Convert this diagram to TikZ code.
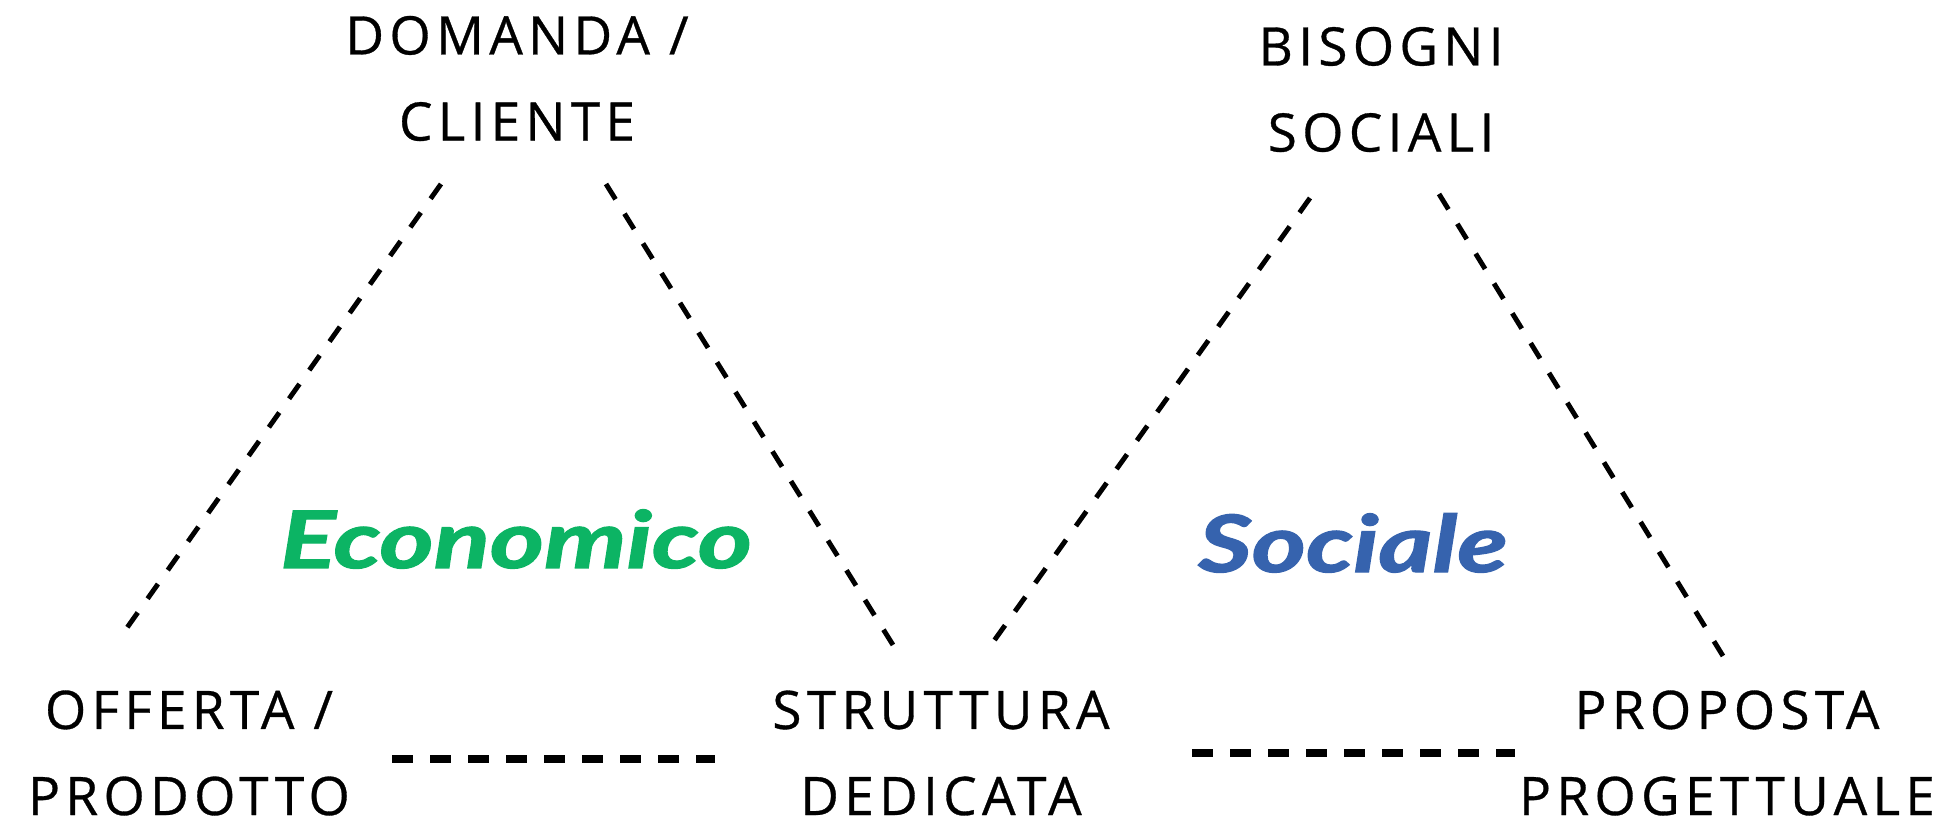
\documentclass[tikz,border=0pt]{standalone}
\usepackage{fontspec}
\usetikzlibrary{positioning}
\newfontfamily\capsfont[LetterSpace=10,FakeBold=0.6]{Open Sans}
\newfontfamily\areafont[FakeBold=1.5]{Lato}
\definecolor{ecogreen}{RGB}{12,180,100}
\definecolor{socblue}{RGB}{54,99,174}
\newcommand{\areatext}[1]{\scalebox{1.18}[0.9]{#1}}

\begin{document}
\begin{tikzpicture}[x=1mm,y=-1mm]
    \tikzset{
        lbl/.style={font=\capsfont\fontsize{15.1pt}{24.5pt}\selectfont, align=center, inner sep=0pt},
        area/.style={font=\areafont\bfseries\itshape\fontsize{25pt}{30pt}\selectfont, inner sep=0pt, anchor=base},
        diagdash/.style={line width=1.4pt, dash pattern=on 1.8mm off 1.7mm},
        basedash/.style={line width=2.3pt, dash pattern=on 2.1mm off 1.7mm}}
    \useasboundingbox (0,0) rectangle (195.1,82.6);
    % labels
    \node[lbl] (domanda) at (51.7,7.85) {DOMANDA /\\CLIENTE};
    \node[lbl] (bisogni) at (138.1,8.95) {BISOGNI\\SOCIALI};
    \node[lbl] (offerta) at (18.9,75.3) {OFFERTA /\\PRODOTTO};
    \node[lbl] (struttura) at (94.1,75.3) {STRUTTURA\\DEDICATA};
    \node[lbl] (proposta) at (172.7,75.3) {PROPOSTA\\PROGETTUALE};
    \node[area, text=ecogreen] (economico) at (51.6,56.8) {\areatext{Economico}};
    \node[area, text=socblue] (sociale) at (135.3,57.2) {\areatext{Sociale}};
    % ends of the dashed sides
    \coordinate (dom-l) at (44.1,18.4);
    \coordinate (dom-r) at (60.6,18.4);
    \coordinate (bis-l) at (131.0,19.8);
    \coordinate (bis-r) at (143.9,19.4);
    \coordinate (off-t) at (12.4,63.2);
    \coordinate (str-l) at (89.3,64.5);
    \coordinate (str-r) at (99.1,64.5);
    \coordinate (pro-t) at (172.3,65.6);
    \draw[diagdash] (dom-l) -- (off-t);
    \draw[diagdash] (dom-r) -- (str-l);
    \draw[diagdash] (bis-l) -- (str-r);
    \draw[diagdash] (bis-r) -- (pro-t);
    % base lines
    \coordinate (off-e) at (39.2,75.9);
    \coordinate (str-w) at (71.5,75.9);
    \coordinate (str-e) at (119.2,75.3);
    \coordinate (pro-w) at (151.5,75.3);
    \draw[basedash] (off-e) -- (str-w);
    \draw[basedash] (str-e) -- (pro-w);
\end{tikzpicture}
\end{document}
